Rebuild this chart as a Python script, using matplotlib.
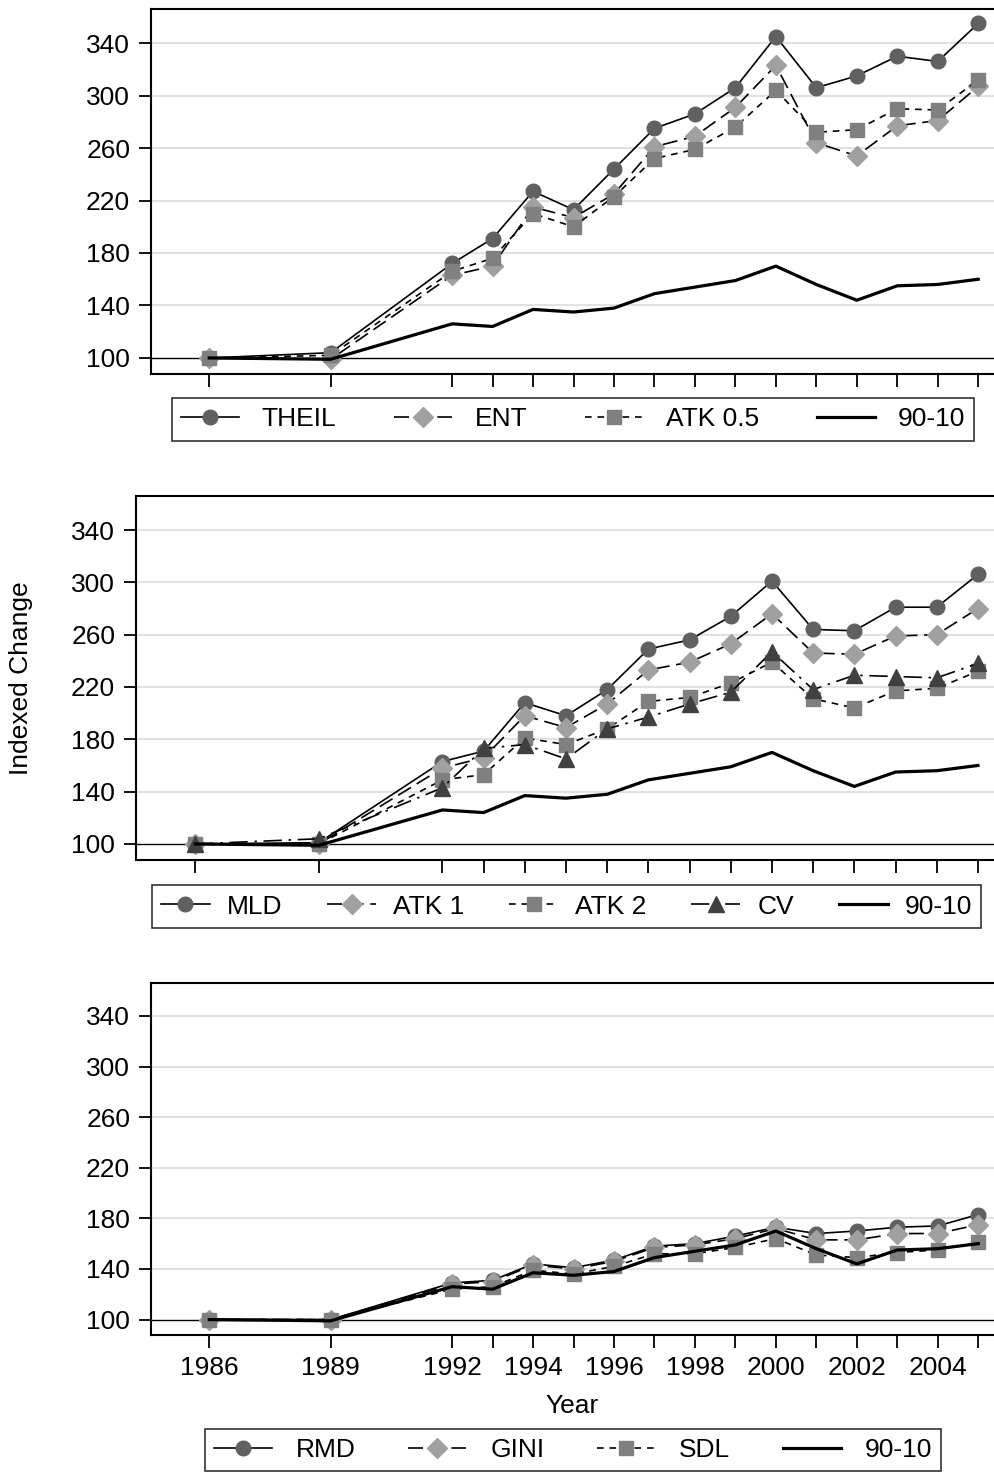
from matplotlib import pyplot as plt
import numpy as np

plt.rcParams['font.family'] = ['Liberation Sans', 'DejaVu Sans']

years = [1986, 1989, 1992, 1993, 1994, 1995, 1996, 1997, 1998, 1999,
         2000, 2001, 2002, 2003, 2004, 2005]

# panel 1
theil = [100, 104, 172, 191, 227, 213, 244, 275, 286, 306, 345, 306, 315, 330, 326, 355]
ent = [100, 99, 163, 170, 215, 207, 225, 261, 269, 291, 323, 264, 254, 277, 281, 307]
atk05 = [100, 102, 166, 176, 210, 200, 223, 252, 259, 276, 304, 272, 274, 290, 289, 312]
# 90-10 ratio (same in all panels)
p9010 = [100, 99, 126, 124, 137, 135, 138, 149, 154, 159, 170, 156, 144, 155, 156, 160]

# panel 2
mld = [100, 101, 163, 171, 208, 198, 218, 249, 256, 274, 301, 264, 263, 281, 281, 306]
atk1 = [100, 100, 158, 166, 198, 189, 207, 233, 239, 253, 276, 246, 245, 259, 260, 280]
atk2 = [100, 100, 149, 153, 181, 176, 188, 209, 212, 223, 239, 211, 204, 217, 219, 232]
cv = [100, 104, 143, 173, 176, 165, 188, 197, 207, 216, 247, 218, 229, 228, 227, 238]

# panel 3
rmd = [100, 100, 129, 131, 144, 141, 147, 158, 160, 166, 173, 168, 170, 173, 174, 183]
gini = [100, 100, 128, 130, 143, 140, 146, 157, 159, 164, 172, 163, 163, 168, 168, 175]
sdl = [100, 100, 124, 126, 139, 136, 142, 152, 152, 157, 164, 151, 149, 153, 155, 161]

yticks = [100, 140, 180, 220, 260, 300, 340]
xlabels = [1986, 1989, 1992, 1994, 1996, 1998, 2000, 2002, 2004]

FS = 19
circ = dict(marker='o', mfc='#606060', mec='#606060', ms=10.5)
diam = dict(marker='D', mfc='#a0a0a0', mec='#a0a0a0', ms=10)
sq = dict(marker='s', mfc='#808080', mec='#808080', ms=9.5)
tri = dict(marker='^', mfc='#404040', mec='#404040', ms=11)
solid = dict(color='black', lw=1.2, ls='-')
longd = dict(color='black', lw=1.2, dashes=(9, 4))
shortd = dict(color='black', lw=1.2, dashes=(4, 3.5))
dashdot = dict(color='black', lw=1.2, dashes=(11, 4, 1.5, 4))

fig = plt.figure(figsize=(9.94, 14.74), dpi=100)


def panel(rect, series, show_x, legend_y, legend_x, hl, htp, cs):
    ax = fig.add_axes(rect)
    for vals, lab, ls, mk in series:
        ax.plot(years, vals, label=lab, zorder=3, **ls, **mk)
    ax.plot(years, p9010, color='black', lw=2.3, label='90-10', zorder=3)
    ax.set_xlim(1984.56, 2005.39)
    ax.set_ylim(87.8, 366)
    ax.set_yticks(yticks)
    for v in yticks[1:]:
        ax.axhline(v, color='#e2e2e2', lw=1.5, zorder=1)
    ax.axhline(100, color='black', lw=1.0, zorder=2)
    ax.set_xticks(years)
    if show_x:
        ax.set_xticklabels([str(y) if y in xlabels else '' for y in years])
    else:
        ax.set_xticklabels([])
    ax.tick_params(axis='both', direction='out', length=9, width=1.3,
                   labelsize=FS, pad=6, color='black')
    for s in ['left', 'top', 'bottom']:
        ax.spines[s].set_linewidth(1.5)
    ax.spines['right'].set_visible(False)
    leg = ax.legend(loc='center', bbox_to_anchor=(legend_x, legend_y),
                    bbox_transform=fig.transFigure, ncol=len(series) + 1,
                    fontsize=FS, frameon=True, fancybox=False, edgecolor='black',
                    handlelength=hl, handletextpad=htp, columnspacing=cs,
                    borderpad=0.35, numpoints=1, borderaxespad=0)
    leg.get_frame().set_linewidth(1.2)
    return ax


panel([0.1519, 0.7463, 0.8481, 0.2476],
      [(theil, 'THEIL', solid, circ), (ent, 'ENT', longd, diam),
       (atk05, 'ATK 0.5', shortd, sq)],
      False, 1 - 419.5 / 1474, 573 / 994, 2.2, 0.85, 2.2)

ax2 = panel([0.1368, 0.4166, 0.8632, 0.2469],
            [(mld, 'MLD', solid, circ), (atk1, 'ATK 1', longd, diam),
             (atk2, 'ATK 2', shortd, sq), (cv, 'CV', dashdot, tri)],
            False, 1 - 906.5 / 1474, 566.5 / 994, 1.85, 0.65, 1.7)
ax2.set_ylabel('Indexed Change', fontsize=FS)
ax2.yaxis.set_label_coords(-0.12, 0.5)

ax3 = panel([0.1519, 0.0943, 0.8481, 0.2388],
            [(rmd, 'RMD', solid, circ), (gini, 'GINI', longd, diam),
             (sdl, 'SDL', shortd, sq)],
            True, 1 - 1450 / 1474, 573 / 994, 2.2, 0.9, 2.0)
ax3.set_xlabel('Year', fontsize=FS, labelpad=10)

fig.savefig('out.png', dpi=100)
